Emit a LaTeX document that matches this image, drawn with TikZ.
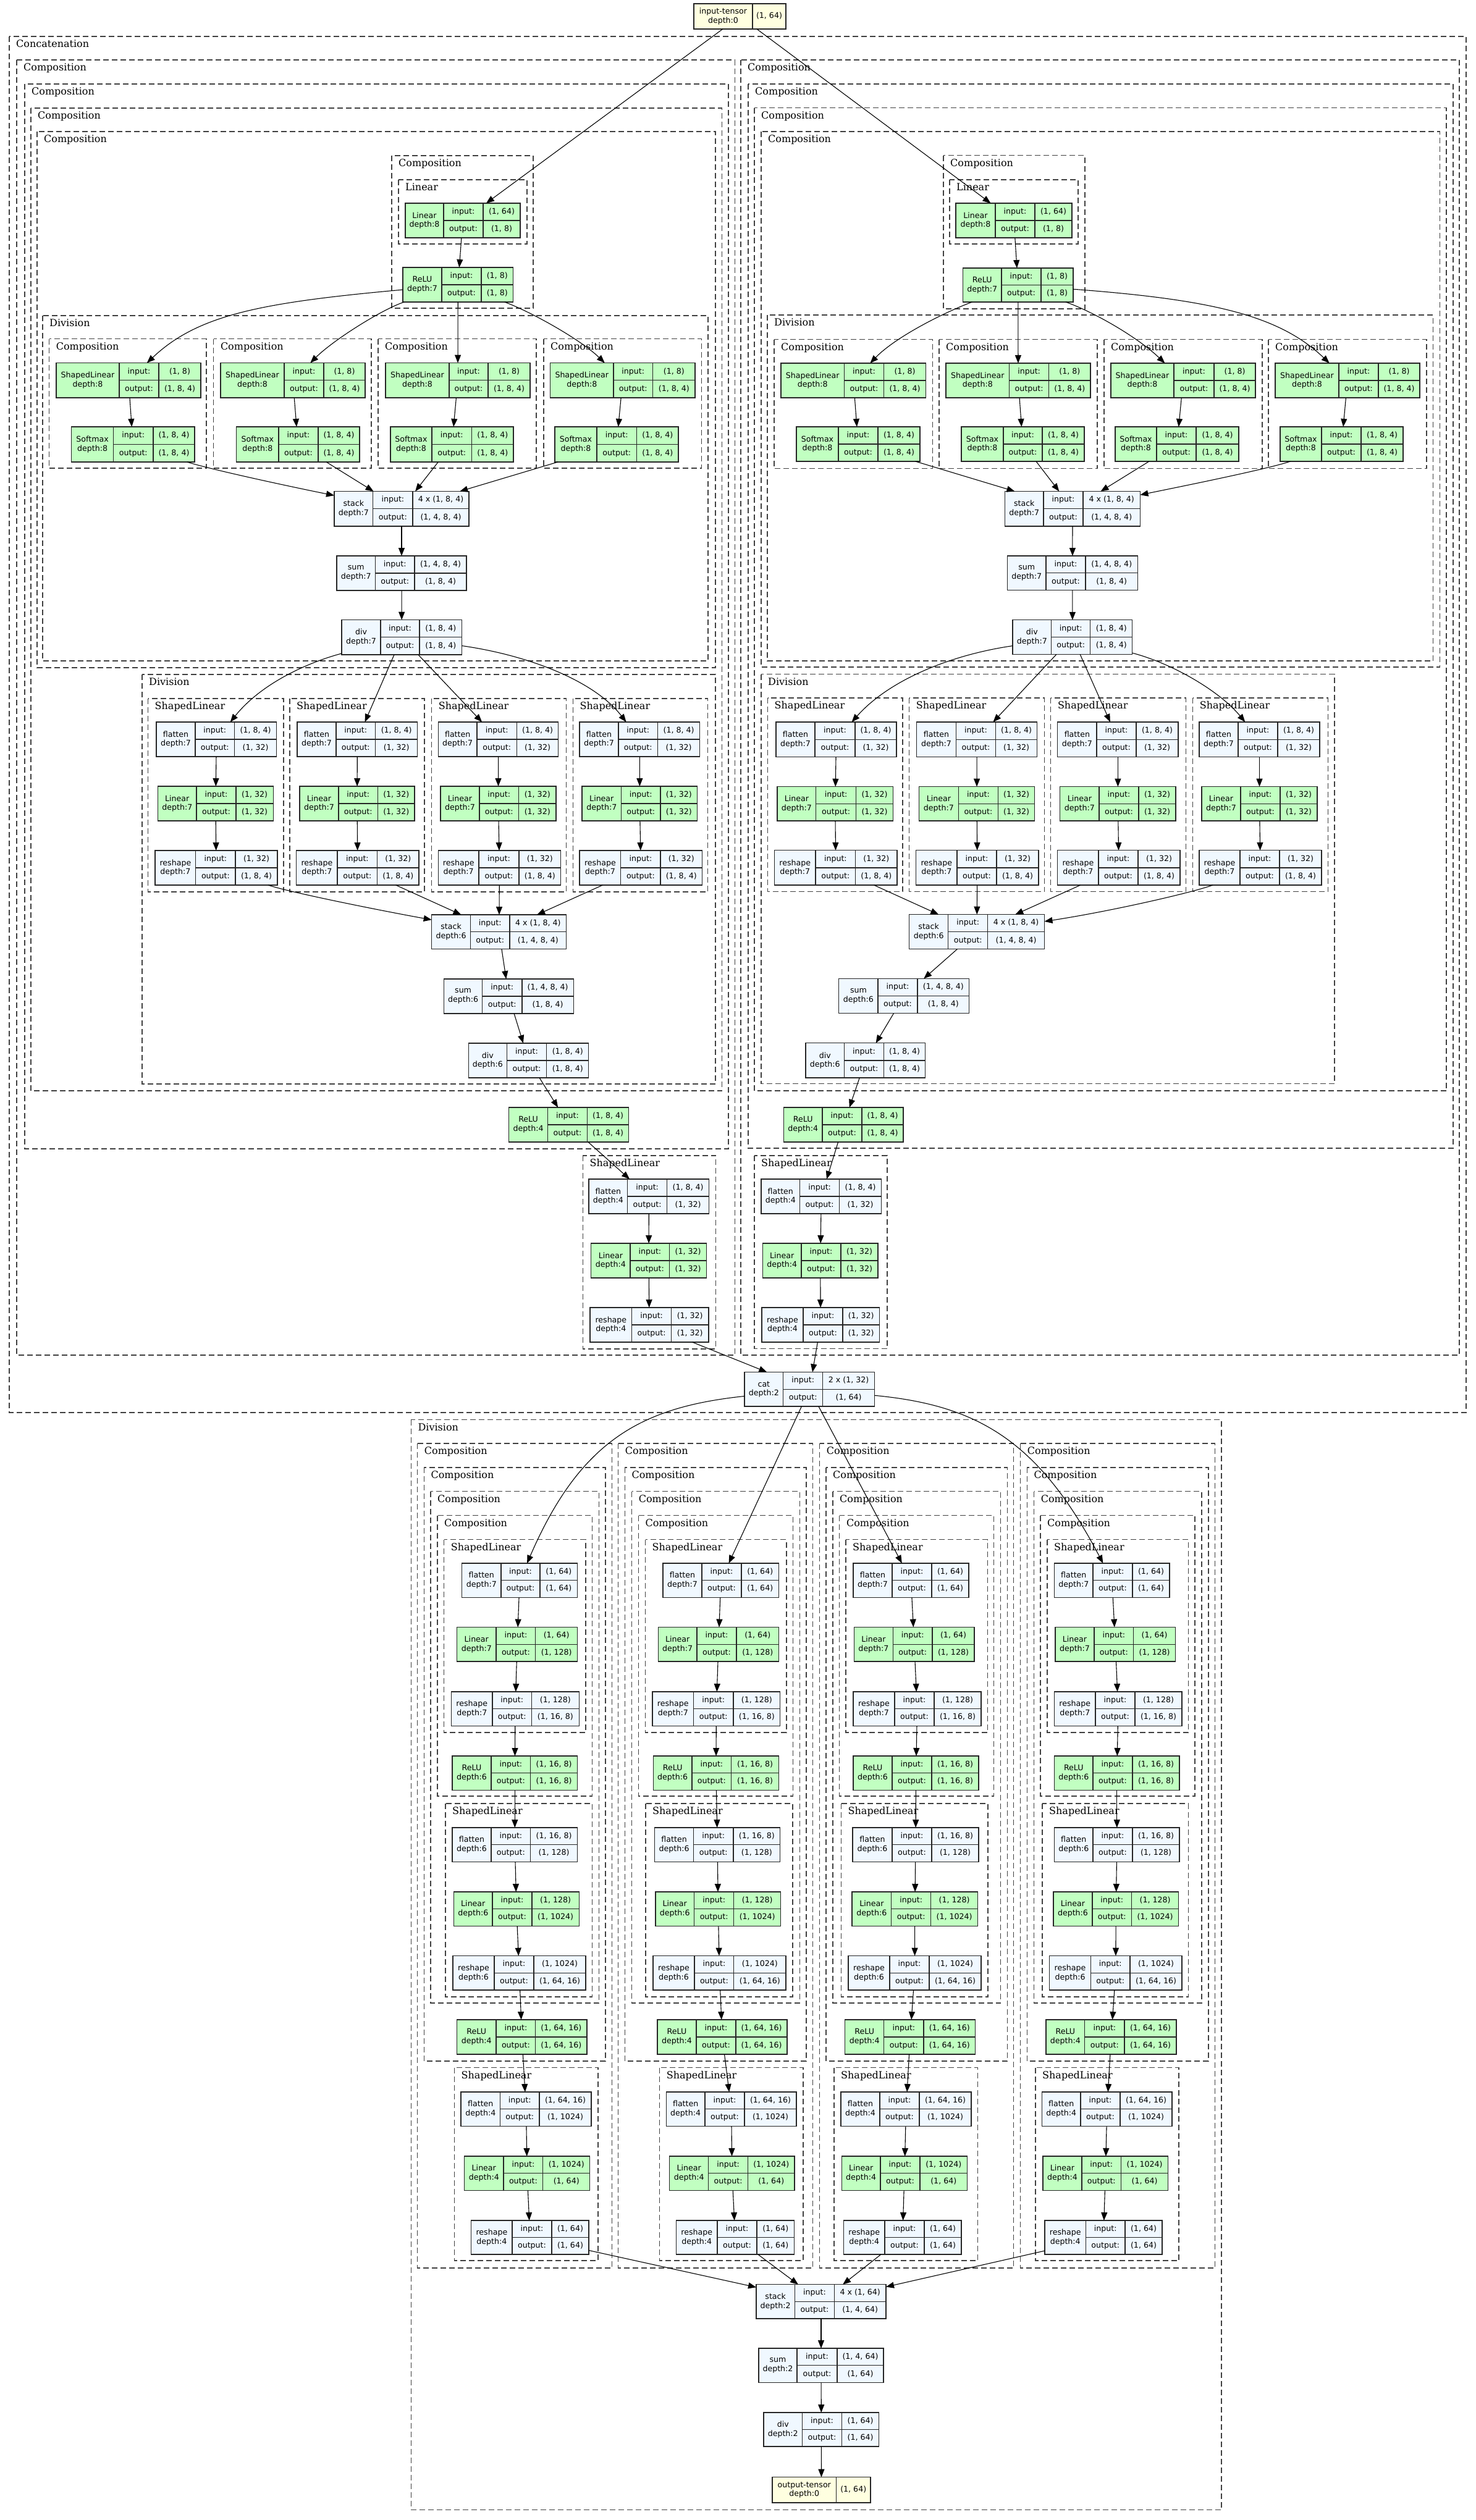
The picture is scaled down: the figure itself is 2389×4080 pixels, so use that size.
\documentclass[tikz,border=0pt]{standalone}
\usepackage{fontspec}
\usetikzlibrary{arrows.meta}
\newfontfamily\nfam{DejaVu Sans}
\newfontfamily\cfam{DejaVu Serif}
\newcommand\nodef{\nfam\fontsize{12.6}{14.7}\selectfont}
\newcommand\clusf{\cfam\fontsize{16}{19}\selectfont}
\definecolor{gr}{HTML}{C1FFC1}
\definecolor{bl}{HTML}{F0F8FF}
\definecolor{ye}{HTML}{FFFFE0}
\newcounter{clc}
\tikzset{
 recbox/.style={draw=black!85, line width=1.3pt, inner sep=0pt, outer sep=0pt},
 recline/.style={draw=black!85, line width=1.3pt},
 rectxt/.style={font=\nodef, inner sep=0pt, text height=9.2pt, text depth=2.6pt},
 reclab/.style={font=\nodef, inner sep=0pt, align=center},
 clbox/.style={draw=black!75, line width=1.3pt, dash pattern=on 9pt off 5pt},
 cllab/.style={font=\clusf, inner sep=0pt, anchor=base west},
 conn/.style={draw=black, line width=1.1pt, -{Triangle[length=13pt,width=10pt]}},
}
\newcommand\io[2]{\def\rin{#1}\def\rout{#2}}
% name fill x1 y1 x2 y2 xa xb label
\newcommand\rec[9]{%
\node[recbox,fill=#2,minimum width={#5pt-#3pt},minimum height={#6pt-#4pt}] (#1) at ({(#3+#5)/2},{(#4+#6)/2}) {};
\draw[recline] (#7,#4) -- (#7,#6) (#8,#4) -- (#8,#6) (#7,{(#4+#6)/2}) -- (#5,{(#4+#6)/2});
\node[reclab] (#1-l) at ({(#3+#7)/2},{(#4+#6)/2}) {#9};
\node[rectxt] (#1-i) at ({(#7+#8)/2},{#4+(#6-#4)/4}) {input:};
\node[rectxt] (#1-o) at ({(#7+#8)/2},{#6-(#6-#4)/4}) {output:};
\node[rectxt] (#1-iv) at ({(#8+#5)/2},{#4+(#6-#4)/4}) {\rin};
\node[rectxt] (#1-ov) at ({(#8+#5)/2},{#6-(#6-#4)/4}) {\rout};
}
% name x1 y1 x2 y2 xa label value
\newcommand\tens[8]{%
\node[recbox,fill=ye,minimum width={#4pt-#2pt},minimum height={#5pt-#3pt}] (#1) at ({(#2+#4)/2},{(#3+#5)/2}) {};
\draw[recline] (#6,#3) -- (#6,#5);
\node[reclab] (#1-l) at ({(#2+#6)/2},{(#3+#5)/2}) {#7};
\node[rectxt] (#1-v) at ({(#6+#4)/2},{(#3+#5)/2}) {#8};
}
\newcommand\clus[5]{\stepcounter{clc}\edef\clname{cl\arabic{clc}}%
\draw[clbox] (#1,#2) rectangle (#3,#4);
\node[cllab] (\clname) at ({#1+11},{#2+17.5}) {#5};}
\begin{document}
\begin{tikzpicture}[x=1pt,y=-1pt]
\useasboundingbox (0,0) rectangle (2389,4080);
\fill[white] (0,0) rectangle (2389,4080);
% ---------------- clusters: top half
\clus{15}{59}{2373}{2287}{Concatenation}
\clus{27}{97}{1189.5}{2194}{Composition}
\clus{40}{136}{1179}{1860}{Composition}
\clus{50}{175}{1168.5}{1766}{Composition}
\clus{60}{213}{1158}{1081}{Composition}
\clus{634}{252}{863}{499}{Composition}
\clus{645}{291}{853}{395}{Linear}
\clus{69}{511}{1146}{1070}{Division}
\clus{79.6}{548.6}{334}{758}{Composition}
\clus{345.8}{548.6}{601}{758}{Composition}
\clus{612}{548.6}{868}{758}{Composition}
\clus{880}{548.6}{1135.5}{758}{Composition}
\clus{230}{1092}{1158}{1755}{Division}
\clus{239.5}{1131}{459}{1444}{ShapedLinear}
\clus{469}{1131}{687}{1444}{ShapedLinear}
\clus{698.7}{1131}{916.8}{1444}{ShapedLinear}
\clus{927.5}{1131}{1145.6}{1444}{ShapedLinear}
\clus{943.4}{1871}{1158.8}{2184}{ShapedLinear}
\clus{1199}{97}{2362}{2194}{Composition}
\clus{1211}{136}{2352}{1859}{Composition}
\clus{1221}{174.5}{2341}{1766}{Composition}
\clus{1232}{213}{2330.6}{1080}{Composition}
\clus{1527}{251.5}{1756}{500}{Composition}
\clus{1537}{291}{1745}{395}{Linear}
\clus{1242}{510}{2319.5}{1070}{Division}
\clus{1253}{549.5}{1509.5}{758.7}{Composition}
\clus{1520}{549.5}{1776}{758.7}{Composition}
\clus{1787}{549.5}{2043}{758.7}{Composition}
\clus{2053}{549.5}{2309}{758.7}{Composition}
\clus{1232}{1091.5}{2160}{1754.5}{Division}
\clus{1242.5}{1130}{1461}{1443.8}{ShapedLinear}
\clus{1471.6}{1130}{1690.5}{1443.8}{ShapedLinear}
\clus{1700.8}{1130}{1919.7}{1443.8}{ShapedLinear}
\clus{1930.7}{1130}{2149.6}{1443.8}{ShapedLinear}
\clus{1221}{1871}{1436}{2183.5}{ShapedLinear}
% ---------------- clusters: bottom half
\clus{665.4}{2298.7}{1977}{4063.5}{Division}
\clus{675.7}{2337}{990.4}{3672}{Composition}
\clus{686.4}{2376}{980}{3337}{Composition}
\clus{697}{2414.6}{969.5}{3243}{Composition}
\clus{708}{2453.7}{958.75}{2908}{Composition}
\clus{718.6}{2492.7}{948}{2805}{ShapedLinear}
\clus{721}{2920}{958.75}{3233}{ShapedLinear}
\clus{735.5}{3347.5}{968}{3660}{ShapedLinear}
\clus{1000.7}{2337}{1315.4}{3672}{Composition}
\clus{1011.4}{2376}{1305}{3337}{Composition}
\clus{1022.6}{2414.6}{1294.5}{3243}{Composition}
\clus{1033.3}{2453.7}{1283.75}{2908}{Composition}
\clus{1044.5}{2492.7}{1273}{2805}{ShapedLinear}
\clus{1045}{2920}{1283}{3233}{ShapedLinear}
\clus{1067.7}{3347.5}{1300}{3660}{ShapedLinear}
\clus{1326.7}{2337}{1640.5}{3672}{Composition}
\clus{1337}{2376}{1630.7}{3337}{Composition}
\clus{1348}{2414.6}{1619.5}{3243}{Composition}
\clus{1358.8}{2453.7}{1608.8}{2908}{Composition}
\clus{1369}{2492.7}{1598.6}{2805}{ShapedLinear}
\clus{1361.5}{2920}{1599}{3233}{ShapedLinear}
\clus{1350}{3347.5}{1582.5}{3660}{ShapedLinear}
\clus{1651.7}{2337}{1966.4}{3672}{Composition}
\clus{1662.4}{2376}{1956}{3337}{Composition}
\clus{1673.6}{2414.6}{1945}{3243}{Composition}
\clus{1684}{2453.7}{1934}{2908}{Composition}
\clus{1695}{2492.7}{1923.6}{2805}{ShapedLinear}
\clus{1687}{2920}{1923.6}{3233}{ShapedLinear}
\clus{1676}{3347.5}{1908}{3660}{ShapedLinear}
% ---------------- nodes: top
\tens{intens}{1123}{6}{1272}{47}{1218}{input-tensor\\depth:0}{(1, 64)}
% left column
\io{(1, 64)}{(1, 8)}\rec{lin8L}{gr}{656}{329}{842}{385}{718}{782}{Linear\\depth:8}
\io{(1, 8)}{(1, 8)}\rec{relu7L}{gr}{652}{433}{830.5}{489}{715}{779}{ReLU\\depth:7}
\io{(1, 8)}{(1, 8, 4)}
\rec{slL1}{gr}{91}{587.6}{325}{644}{193}{257}{ShapedLinear\\depth:8}
\rec{slL2}{gr}{357}{587.6}{591}{644}{460}{524}{ShapedLinear\\depth:8}
\rec{slL3}{gr}{624}{587.6}{858}{644}{727}{790}{ShapedLinear\\depth:8}
\rec{slL4}{gr}{890.6}{587.6}{1125}{644}{993}{1056.6}{ShapedLinear\\depth:8}
\io{(1, 8, 4)}{(1, 8, 4)}
\rec{smL1}{gr}{115.5}{691}{315}{748}{183.6}{248}{Softmax\\depth:8}
\rec{smL2}{gr}{382.6}{691}{582}{748}{451}{515}{Softmax\\depth:8}
\rec{smL3}{gr}{632}{691}{831}{748}{699}{763.6}{Softmax\\depth:8}
\rec{smL4}{gr}{898}{691}{1098}{748}{966}{1030.6}{Softmax\\depth:8}
\io{4 x (1, 8, 4)}{(1, 4, 8, 4)}\rec{stk7L}{bl}{541}{795.5}{759}{852}{603.7}{668}{stack\\depth:7}
\io{(1, 4, 8, 4)}{(1, 8, 4)}\rec{sum7L}{bl}{545}{900}{755}{956}{607.5}{671}{sum\\depth:7}
\io{(1, 8, 4)}{(1, 8, 4)}\rec{div7L}{bl}{553}{1003.6}{747.5}{1060}{616}{679}{div\\depth:7}
\io{(1, 8, 4)}{(1, 32)}
\rec{flL1}{bl}{253}{1169}{447.7}{1225}{316}{379.6}{flatten\\depth:7}
\rec{flL2}{bl}{481}{1169}{675.8}{1225}{544}{607.6}{flatten\\depth:7}
\rec{flL3}{bl}{709.4}{1169}{903.8}{1225}{772}{836.5}{flatten\\depth:7}
\rec{flL4}{bl}{938}{1169}{1132.6}{1225}{1001}{1064.5}{flatten\\depth:7}
\io{(1, 32)}{(1, 32)}
\rec{lnL1}{gr}{255.6}{1273}{442.3}{1329}{318}{382}{Linear\\depth:7}
\rec{lnL2}{gr}{485}{1273}{671}{1329}{548}{611.5}{Linear\\depth:7}
\rec{lnL3}{gr}{713}{1273}{900}{1329}{776}{839.5}{Linear\\depth:7}
\rec{lnL4}{gr}{942}{1273}{1128.8}{1329}{1005.6}{1069}{Linear\\depth:7}
\io{(1, 32)}{(1, 8, 4)}
\rec{rsL1}{bl}{251}{1377}{449}{1433}{316.8}{381}{reshape\\depth:7}
\rec{rsL2}{bl}{479.8}{1377}{678}{1433}{546}{610.7}{reshape\\depth:7}
\rec{rsL3}{bl}{709.4}{1377}{907.6}{1433}{775}{840}{reshape\\depth:7}
\rec{rsL4}{bl}{938}{1377}{1136.5}{1433}{1004.8}{1069}{reshape\\depth:7}
\io{4 x (1, 8, 4)}{(1, 4, 8, 4)}\rec{stk6L}{bl}{698.7}{1481}{916.8}{1536.6}{761.5}{825}{stack\\depth:6}
\io{(1, 4, 8, 4)}{(1, 8, 4)}\rec{sum6L}{bl}{718.6}{1585}{928.3}{1641}{780.6}{845}{sum\\depth:6}
\io{(1, 8, 4)}{(1, 8, 4)}\rec{div6L}{bl}{758.4}{1689}{952.8}{1745}{820.4}{884.7}{div\\depth:6}
\io{(1, 8, 4)}{(1, 8, 4)}\rec{relu4L}{gr}{823.5}{1793}{1017.8}{1849}{886.6}{950.4}{ReLU\\depth:4}
\io{(1, 8, 4)}{(1, 32)}\rec{fl4L}{bl}{953}{1909}{1147.6}{1965}{1015.7}{1079.5}{flatten\\depth:4}
\io{(1, 32)}{(1, 32)}\rec{ln4L}{gr}{956.7}{2013}{1143.4}{2069}{1020}{1083.7}{Linear\\depth:4}
\io{(1, 32)}{(1, 32)}\rec{rs4L}{bl}{955}{2117}{1146.9}{2173}{1022.7}{1086.5}{reshape\\depth:4}
\io{2 x (1, 32)}{(1, 64)}\rec{cat}{bl}{1205}{2221.5}{1415.5}{2277}{1267.7}{1331.7}{cat\\depth:2}
% right column
\io{(1, 64)}{(1, 8)}\rec{lin8R}{gr}{1547}{329}{1735}{385}{1611}{1675}{Linear\\depth:8}
\io{(1, 8)}{(1, 8)}\rec{relu7R}{gr}{1558.5}{434}{1737}{489}{1621}{1685}{ReLU\\depth:7}
\io{(1, 8)}{(1, 8, 4)}
\rec{slR1}{gr}{1264}{588}{1498.5}{644}{1366.5}{1430.5}{ShapedLinear\\depth:8}
\rec{slR2}{gr}{1531}{588}{1765}{644}{1633.6}{1697.6}{ShapedLinear\\depth:8}
\rec{slR3}{gr}{1798}{588}{2032}{644}{1900}{1965}{ShapedLinear\\depth:8}
\rec{slR4}{gr}{2064}{588}{2298}{644}{2167}{2231}{ShapedLinear\\depth:8}
\io{(1, 8, 4)}{(1, 8, 4)}
\rec{smR1}{gr}{1289}{691}{1489}{747}{1357}{1421}{Softmax\\depth:8}
\rec{smR2}{gr}{1556}{691}{1755}{747}{1624}{1687}{Softmax\\depth:8}
\rec{smR3}{gr}{1805}{691}{2005}{747}{1872}{1936}{Softmax\\depth:8}
\rec{smR4}{gr}{2072}{691}{2271}{747}{2139}{2203}{Softmax\\depth:8}
\io{4 x (1, 8, 4)}{(1, 4, 8, 4)}\rec{stk7R}{bl}{1626.5}{795.5}{1845.4}{852}{1689}{1753}{stack\\depth:7}
\io{(1, 4, 8, 4)}{(1, 8, 4)}\rec{sum7R}{bl}{1630.4}{900}{1841.4}{955.6}{1693}{1757}{sum\\depth:7}
\io{(1, 8, 4)}{(1, 8, 4)}\rec{div7R}{bl}{1639}{1003.8}{1832.7}{1059.4}{1701.6}{1764.8}{div\\depth:7}
\io{(1, 8, 4)}{(1, 32)}
\rec{flR1}{bl}{1256}{1169}{1451}{1225.5}{1319}{1384}{flatten\\depth:7}
\rec{flR2}{bl}{1483.5}{1169}{1678.6}{1225.5}{1547.5}{1611.5}{flatten\\depth:7}
\rec{flR3}{bl}{1711.8}{1169}{1907}{1225.5}{1775}{1839}{flatten\\depth:7}
\rec{flR4}{bl}{1941}{1169}{2136}{1225.5}{2004}{2068}{flatten\\depth:7}
\io{(1, 32)}{(1, 32)}
\rec{lnR1}{gr}{1258}{1273.7}{1445.5}{1329}{1320.7}{1385.5}{Linear\\depth:7}
\rec{lnR2}{gr}{1487.4}{1273.7}{1674.7}{1329}{1551.4}{1615.4}{Linear\\depth:7}
\rec{lnR3}{gr}{1715.8}{1273.7}{1903}{1329}{1779}{1843}{Linear\\depth:7}
\rec{lnR4}{gr}{1945}{1273.7}{2132}{1329}{2008}{2072}{Linear\\depth:7}
\io{(1, 32)}{(1, 8, 4)}
\rec{rsR1}{bl}{1253.5}{1376.8}{1452}{1433}{1320}{1384.7}{reshape\\depth:7}
\rec{rsR2}{bl}{1482.7}{1376.8}{1681}{1433}{1549}{1613}{reshape\\depth:7}
\rec{rsR3}{bl}{1711.8}{1376.8}{1910}{1433}{1778}{1842}{reshape\\depth:7}
\rec{rsR4}{bl}{1941}{1376.8}{2139}{1433}{2007}{2071}{reshape\\depth:7}
\io{4 x (1, 8, 4)}{(1, 4, 8, 4)}\rec{stk6R}{bl}{1471.6}{1480.6}{1690.5}{1536.8}{1534.8}{1598.8}{stack\\depth:6}
\io{(1, 4, 8, 4)}{(1, 8, 4)}\rec{sum6R}{bl}{1357.8}{1584.4}{1568.8}{1640.6}{1421}{1485}{sum\\depth:6}
\io{(1, 8, 4)}{(1, 8, 4)}\rec{div6R}{bl}{1304}{1688.8}{1497.7}{1745}{1366.5}{1430.5}{div\\depth:6}
\io{(1, 8, 4)}{(1, 8, 4)}\rec{relu4R}{gr}{1268.5}{1793}{1462}{1849}{1331}{1395}{ReLU\\depth:4}
\io{(1, 8, 4)}{(1, 32)}\rec{fl4R}{bl}{1232}{1909}{1426.6}{1965}{1294.6}{1358.6}{flatten\\depth:4}
\io{(1, 32)}{(1, 32)}\rec{ln4R}{gr}{1234.5}{2013}{1421}{2069}{1297}{1361}{Linear\\depth:4}
\io{(1, 32)}{(1, 32)}\rec{rs4R}{bl}{1233}{2117}{1423.4}{2173}{1300}{1364}{reshape\\depth:4}
% ---------------- nodes: bottom
\io{(1, 64)}{(1, 64)}
\rec{b1fl7}{bl}{747.6}{2531}{934.6}{2586.5}{811}{874}{flatten\\depth:7}
\rec{b2fl7}{bl}{1073}{2531}{1260.5}{2586.5}{1136}{1200}{flatten\\depth:7}
\rec{b3fl7}{bl}{1381}{2531}{1568}{2586.5}{1444}{1508}{flatten\\depth:7}
\rec{b4fl7}{bl}{1706.6}{2531}{1893}{2586.5}{1769}{1833}{flatten\\depth:7}
\io{(1, 64)}{(1, 128)}
\rec{b1ln7}{gr}{739.6}{2634.5}{934.6}{2690}{803}{866.8}{Linear\\depth:7}
\rec{b2ln7}{gr}{1065.4}{2634.5}{1260.5}{2690}{1128}{1192}{Linear\\depth:7}
\rec{b3ln7}{gr}{1382.5}{2634.5}{1577}{2690}{1445.4}{1509}{Linear\\depth:7}
\rec{b4ln7}{gr}{1708}{2634.5}{1902.6}{2690}{1771}{1834.7}{Linear\\depth:7}
\io{(1, 128)}{(1, 16, 8)}
\rec{b1rs7}{bl}{730.6}{2739}{937.3}{2794.5}{797}{860.5}{reshape\\depth:7}
\rec{b2rs7}{bl}{1056}{2739}{1262.75}{2794.5}{1122.6}{1187}{reshape\\depth:7}
\rec{b3rs7}{bl}{1381}{2739}{1588}{2794.5}{1448}{1512}{reshape\\depth:7}
\rec{b4rs7}{bl}{1706.6}{2739}{1913}{2794.5}{1773}{1837}{reshape\\depth:7}
\io{(1, 16, 8)}{(1, 16, 8)}
\rec{b1re6}{gr}{732}{2843}{934.6}{2898.5}{795}{858.75}{ReLU\\depth:6}
\rec{b2re6}{gr}{1057.4}{2843}{1260.5}{2898.5}{1120}{1183.75}{ReLU\\depth:6}
\rec{b3re6}{gr}{1381}{2843}{1584}{2898.5}{1444}{1508}{ReLU\\depth:6}
\rec{b4re6}{gr}{1706.6}{2843}{1909}{2898.5}{1769}{1833}{ReLU\\depth:6}
\io{(1, 16, 8)}{(1, 128)}
\rec{b1fl6}{bl}{732}{2959}{934.6}{3014.5}{795}{858.75}{flatten\\depth:6}
\rec{b2fl6}{bl}{1059.6}{2959}{1262.75}{3014.5}{1122.6}{1187}{flatten\\depth:6}
\rec{b3fl6}{bl}{1380}{2959}{1584}{3014.5}{1444}{1508}{flatten\\depth:6}
\rec{b4fl6}{bl}{1706.6}{2959}{1909}{3014.5}{1769}{1833}{flatten\\depth:6}
\io{(1, 128)}{(1, 1024)}
\rec{b1ln6}{gr}{734.6}{3063}{937.3}{3118.5}{797}{861}{Linear\\depth:6}
\rec{b2ln6}{gr}{1061}{3063}{1263.6}{3118.5}{1123.5}{1187.8}{Linear\\depth:6}
\rec{b3ln6}{gr}{1379}{3063}{1582.5}{3118.5}{1442.8}{1506.6}{Linear\\depth:6}
\rec{b4ln6}{gr}{1705}{3063}{1907.5}{3118.5}{1768}{1831.6}{Linear\\depth:6}
\io{(1, 1024)}{(1, 64, 16)}
\rec{b1rs6}{bl}{733}{3166.6}{948}{3222}{800}{864}{reshape\\depth:6}
\rec{b2rs6}{bl}{1057}{3166.6}{1272}{3222}{1124}{1187.8}{reshape\\depth:6}
\rec{b3rs6}{bl}{1373}{3166.6}{1588}{3222}{1440}{1504}{reshape\\depth:6}
\rec{b4rs6}{bl}{1698.6}{3166.6}{1913}{3222}{1765.5}{1829}{reshape\\depth:6}
\io{(1, 64, 16)}{(1, 64, 16)}
\rec{b1re4}{gr}{739.5}{3270}{950}{3326}{803}{866.8}{ReLU\\depth:4}
\rec{b2re4}{gr}{1064}{3270}{1274}{3326}{1127}{1191}{ReLU\\depth:4}
\rec{b3re4}{gr}{1367.8}{3270}{1578.5}{3326}{1430.7}{1495}{ReLU\\depth:4}
\rec{b4re4}{gr}{1693}{3270}{1904}{3326}{1755.7}{1820}{ReLU\\depth:4}
\io{(1, 64, 16)}{(1, 1024)}
\rec{b1fl4}{bl}{746}{3387}{957}{3442.5}{809.6}{873}{flatten\\depth:4}
\rec{b2fl4}{bl}{1078.4}{3387}{1289}{3442.5}{1141}{1205}{flatten\\depth:4}
\rec{b3fl4}{bl}{1361}{3387}{1572}{3442.5}{1424}{1488}{flatten\\depth:4}
\rec{b4fl4}{bl}{1686.5}{3387}{1897}{3442.5}{1749}{1813}{flatten\\depth:4}
\io{(1, 1024)}{(1, 64)}
\rec{b1ln4}{gr}{751.6}{3491}{954.7}{3546.5}{815}{878.8}{Linear\\depth:4}
\rec{b2ln4}{gr}{1083.75}{3491}{1286}{3546.5}{1146.7}{1210.5}{Linear\\depth:4}
\rec{b3ln4}{gr}{1362.4}{3491}{1565.5}{3546.5}{1425}{1489}{Linear\\depth:4}
\rec{b4ln4}{gr}{1688}{3491}{1890.5}{3546.5}{1751}{1814.6}{Linear\\depth:4}
\io{(1, 64)}{(1, 64)}
\rec{b1rs4}{bl}{762.8}{3595}{953}{3650}{829}{893}{reshape\\depth:4}
\rec{b2rs4}{bl}{1094.5}{3595}{1285.5}{3650}{1161}{1225}{reshape\\depth:4}
\rec{b3rs4}{bl}{1365.5}{3595}{1556}{3650}{1432}{1496}{reshape\\depth:4}
\rec{b4rs4}{bl}{1691}{3595}{1881}{3650}{1757.5}{1821}{reshape\\depth:4}
\io{4 x (1, 64)}{(1, 4, 64)}\rec{stk2}{bl}{1224}{3698.6}{1434}{3754}{1286.4}{1350.4}{stack\\depth:2}
\io{(1, 4, 64)}{(1, 64)}\rec{sum2}{bl}{1228}{3802}{1430}{3857.6}{1290}{1355}{sum\\depth:2}
\io{(1, 64)}{(1, 64)}\rec{div2}{bl}{1236}{3906}{1422.7}{3961}{1298.5}{1362.4}{div\\depth:2}
\tens{outtens}{1250}{4010.6}{1409}{4052}{1353.5}{output-tensor\\depth:0}{(1, 64)}
% ---------------- connectors: top left
\draw[conn] (intens) -- (lin8L);
\draw[conn] (intens) -- (lin8R);
\draw[conn] (lin8L) -- (relu7L);
\draw[conn] (relu7L) .. controls (420,490) and (320,510) .. (slL1);
\draw[conn] (relu7L) .. controls (620,500) and (540,550) .. (slL2);
\draw[conn] (relu7L) -- (slL3);
\draw[conn] (relu7L) .. controls (860,505) and (940,550) .. (slL4);
\foreach \k in {1,2,3,4} {\draw[conn] (slL\k) -- (smL\k);}
\draw[conn] (smL1) .. controls (340,760) and (480,790) .. (stk7L);
\draw[conn] (smL2) -- (stk7L);
\draw[conn] (smL3) -- (stk7L);
\draw[conn] (smL4) -- (stk7L);
\draw[conn] (stk7L) -- (sum7L);
\draw[conn] (sum7L) -- (div7L);
\draw[conn] (div7L) .. controls (490,1075) and (420,1110) .. (flL1);
\draw[conn] (div7L) -- (flL2);
\draw[conn] (div7L) -- (flL3);
\draw[conn] (div7L) .. controls (850,1060) and (960,1100) .. (flL4);
\foreach \k in {1,2,3,4} {\draw[conn] (flL\k) -- (lnL\k); \draw[conn] (lnL\k) -- (rsL\k);}
\draw[conn] (rsL1) .. controls (470,1445) and (620,1475) .. (stk6L);
\draw[conn] (rsL2) -- (stk6L);
\draw[conn] (rsL3) -- (stk6L);
\draw[conn] (rsL4) -- (stk6L);
\draw[conn] (stk6L) -- (sum6L);
\draw[conn] (sum6L) -- (div6L);
\draw[conn] (div6L) -- (relu4L);
\draw[conn] (relu4L) -- (fl4L);
\draw[conn] (fl4L) -- (ln4L);
\draw[conn] (ln4L) -- (rs4L);
\draw[conn] (rs4L) -- (cat);
% ---------------- connectors: top right
\draw[conn] (lin8R) -- (relu7R);
\draw[conn] (relu7R) .. controls (1530,505) and (1450,545) .. (slR1);
\draw[conn] (relu7R) -- (slR2);
\draw[conn] (relu7R) .. controls (1770,505) and (1840,545) .. (slR3);
\draw[conn] (relu7R) .. controls (1960,485) and (2070,510) .. (slR4);
\foreach \k in {1,2,3,4} {\draw[conn] (slR\k) -- (smR\k);}
\draw[conn] (smR1) -- (stk7R);
\draw[conn] (smR2) -- (stk7R);
\draw[conn] (smR3) -- (stk7R);
\draw[conn] (smR4) .. controls (2050,760) and (1900,790) .. (stk7R);
\draw[conn] (stk7R) -- (sum7R);
\draw[conn] (sum7R) -- (div7R);
\draw[conn] (div7R) .. controls (1540,1060) and (1440,1100) .. (flR1);
\draw[conn] (div7R) -- (flR2);
\draw[conn] (div7R) -- (flR3);
\draw[conn] (div7R) .. controls (1900,1075) and (1975,1120) .. (flR4);
\foreach \k in {1,2,3,4} {\draw[conn] (flR\k) -- (lnR\k); \draw[conn] (lnR\k) -- (rsR\k);}
\draw[conn] (rsR1) -- (stk6R);
\draw[conn] (rsR2) -- (stk6R);
\draw[conn] (rsR3) -- (stk6R);
\draw[conn] (rsR4) .. controls (1930,1445) and (1800,1475) .. (stk6R);
\draw[conn] (stk6R) -- (sum6R);
\draw[conn] (sum6R) -- (div6R);
\draw[conn] (div6R) -- (relu4R);
\draw[conn] (relu4R) -- (fl4R);
\draw[conn] (fl4R) -- (ln4R);
\draw[conn] (ln4R) -- (rs4R);
\draw[conn] (rs4R) -- (cat);
% ---------------- connectors: bottom
\draw[conn] (cat) .. controls (1040,2278) and (940,2330) .. (b1fl7);
\draw[conn] (cat) -- (b2fl7);
\draw[conn] (cat) -- (b3fl7);
\draw[conn] (cat) .. controls (1580,2275) and (1680,2330) .. (b4fl7);
\foreach \k in {1,2,3,4} {
 \draw[conn] (b\k fl7) -- (b\k ln7);
 \draw[conn] (b\k ln7) -- (b\k rs7);
 \draw[conn] (b\k rs7) -- (b\k re6);
 \draw[conn] (b\k re6) -- (b\k fl6);
 \draw[conn] (b\k fl6) -- (b\k ln6);
 \draw[conn] (b\k ln6) -- (b\k rs6);
 \draw[conn] (b\k rs6) -- (b\k re4);
 \draw[conn] (b\k re4) -- (b\k fl4);
 \draw[conn] (b\k fl4) -- (b\k ln4);
 \draw[conn] (b\k ln4) -- (b\k rs4);
 \draw[conn] (b\k rs4) -- (stk2);
}
\draw[conn] (stk2) -- (sum2);
\draw[conn] (sum2) -- (div2);
\draw[conn] (div2) -- (outtens);
\end{tikzpicture}
\end{document}
